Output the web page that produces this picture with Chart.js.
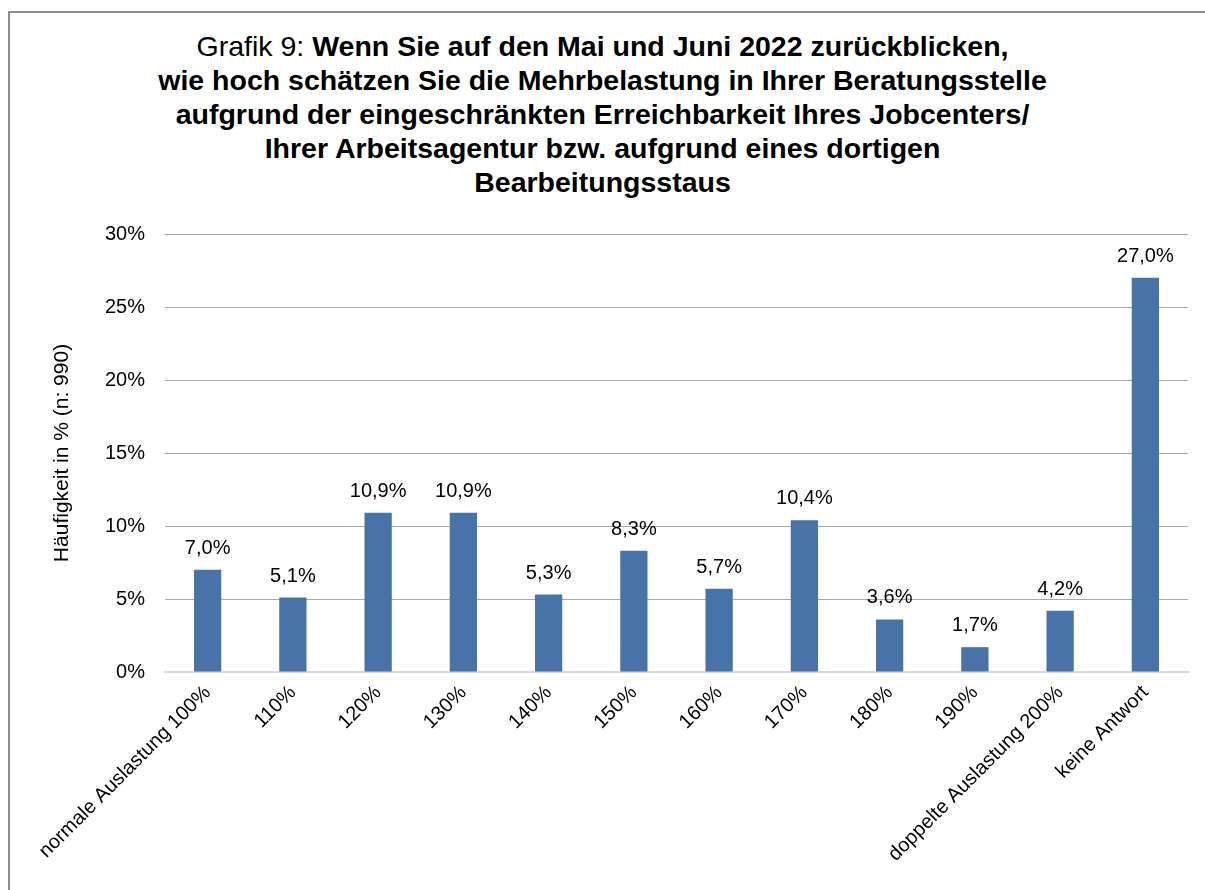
<!DOCTYPE html>
<html>
<head>
<meta charset="utf-8">
<script src="https://cdn.jsdelivr.net/npm/chart.js@4/dist/chart.umd.min.js"></script>
<style>
  html, body { margin: 0; padding: 0; background: #fff; overflow: hidden; }
  #wrap { position: relative; width: 1205px; height: 890px; }
  #frame { position: absolute; left: 8px; top: 11px; width: 1300px; height: 1000px; border: 2px solid #8c8c8c; box-sizing: border-box; }
  #title { position: absolute; left: 0; top: 29px; width: 1205px; text-align: center;
    font-family: "Liberation Sans", Arial, sans-serif; font-size: 28.5px; line-height: 34px; color: #000; }
  #title b { font-weight: bold; }
  canvas { position: absolute; left: 0; top: 0; }
</style>
</head>
<body>
<div id="wrap">
  <div id="frame"></div>
  <div id="title">Grafik 9: <b>Wenn Sie auf den Mai und Juni 2022 zurückblicken,<br>wie hoch schätzen Sie die Mehrbelastung in Ihrer Beratungsstelle<br>aufgrund der eingeschränkten Erreichbarkeit Ihres Jobcenters/<br>Ihrer Arbeitsagentur bzw. aufgrund eines dortigen<br>Bearbeitungsstaus</b></div>
  <canvas id="chart" width="1205" height="890"></canvas>
</div>
<script>
// categories and values
var categories = ['normale Auslastung 100%', '110%', '120%', '130%', '140%', '150%',
  '160%', '170%', '180%', '190%', 'doppelte Auslastung 200%', 'keine Antwort'];
var shares = [7.0, 5.1, 10.9, 10.9, 5.3, 8.3, 5.7, 10.4, 3.6, 1.7, 4.2, 27.0];
var yTicks = [0, 5, 10, 15, 20, 25, 30];
var yTitle = 'Häufigkeit in % (n: 990)';

var FONT = '"Liberation Sans", Arial, sans-serif';

// draws the value above every bar, German decimal comma
var valueLabels = {
  id: 'valueLabels',
  afterDatasetsDraw: function(chart) {
    var ctx = chart.ctx;
    var meta = chart.getDatasetMeta(0);
    ctx.save();
    ctx.font = '20px ' + FONT;
    ctx.fillStyle = '#000';
    ctx.textAlign = 'center';
    ctx.textBaseline = 'alphabetic';
    meta.data.forEach(function(bar, i) {
      var txt = shares[i].toFixed(1).replace('.', ',') + '%';
      ctx.fillText(txt, bar.x, bar.y - 16);
    });
    ctx.restore();
  }
};

new Chart(document.getElementById('chart'), {
  type: 'bar',
  data: {
    labels: categories,
    datasets: [{
      data: shares,
      backgroundColor: '#4773a8',
      borderWidth: 0,
      barPercentage: 0.32,
      categoryPercentage: 1.0
    }]
  },
  options: {
    responsive: false,
    animation: false,
    layout: { padding: { left: 20, right: 17, top: 234, bottom: 0 } },
    plugins: { legend: { display: false }, tooltip: { enabled: false }, title: { display: false } },
    scales: {
      x: {
        grid: { display: false, drawTicks: false },
        border: { display: true, color: '#d9d9d9', width: 2 },
        ticks: {
          color: '#000', font: { family: FONT, size: 20 },
          minRotation: 45, maxRotation: 45, padding: 9, autoSkip: false
        },
        afterFit: function(scale) { scale.height = 218; }
      },
      y: {
        min: 0, max: 30,
        afterBuildTicks: function(scale) {
          scale.ticks = yTicks.map(function(v) { return { value: v }; });
        },
        grid: {
          drawTicks: false,
          color: function(c) { return c.tick && c.tick.value === 0 ? 'rgba(0,0,0,0)' : '#a9a9a9'; },
          lineWidth: 1
        },
        border: { display: false },
        ticks: {
          color: '#000', font: { family: FONT, size: 20 }, padding: 20,
          callback: function(v) { return v + '%'; }
        },
        title: {
          display: true, text: yTitle, color: '#000',
          font: { family: FONT, size: 21 }, padding: { top: 30, bottom: 0 }
        },
        afterFit: function(scale) { scale.width = 145; }
      }
    }
  },
  plugins: [valueLabels]
});
</script>
</body>
</html>
